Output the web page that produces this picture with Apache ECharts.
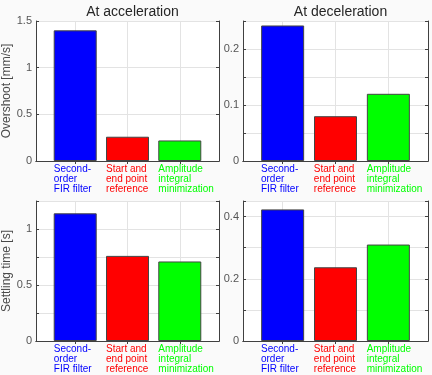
<!DOCTYPE html>
<html>
<head>
<meta charset="utf-8">
<script src="https://cdn.jsdelivr.net/npm/echarts@6/dist/echarts.min.js"></script>
<style>
  html, body { margin: 0; padding: 0; background: #fafafa; }
  #chart { width: 432px; height: 375px; }
</style>
</head>
<body>
<div id="chart"></div>
<script>
const categories = ["Second-\norder\nFIR filter", "Start and\nend point\nreference", "Amplitude\nintegral\nminimization"];
const barColors = ["#0000ff", "#ff0000", "#00ff00"];
const titles = ["At acceleration", "At deceleration"];
const yNames = ["Overshoot [mm/s]", "Settling time [s]"];

const accelOvershoot = [1.4, 0.26, 0.22];
const decelOvershoot = [0.242, 0.08, 0.12];
const accelSettling = [1.14, 0.76, 0.71];
const decelSettling = [0.423, 0.237, 0.31];

// per panel: axis max, tick/grid step, labelled step
const yMax = [1.5, 0.25, 1.25, 0.45];
const yStep = [0.5, 0.05, 0.25, 0.1];
const yLabelStep = [0.5, 0.1, 0.5, 0.2];

const panels = [accelOvershoot, decelOvershoot, accelSettling, decelSettling];
const grids = [
  { left: 36, top: 21, width: 183, height: 140 },
  { left: 243, top: 21, width: 185, height: 140 },
  { left: 36, top: 201, width: 183, height: 140 },
  { left: 243, top: 201, width: 185, height: 140 }
];

const axisColor = "#404040";
const gridColor = "#e3e3e3";
const font = "Liberation Sans";
const xPos = [1, 2, 3];
const labelPos = xPos.map(v => v - 0.41); // labels start at the bar's left edge

const chart = echarts.init(document.getElementById("chart"));
const xAxis = [], yAxis = [], series = [];

panels.forEach((vals, i) => {
  xAxis.push({
    type: "value", gridIndex: i, min: 0.25, max: 3.75,
    axisLine: { show: true, lineStyle: { color: axisColor } },
    axisTick: { show: true, inside: true, length: 3, customValues: xPos, lineStyle: { color: axisColor } },
    axisLabel: {
      show: true, customValues: labelPos, align: "left", verticalAlign: "top",
      margin: 3, fontSize: 10, lineHeight: 10, fontFamily: font,
      formatter: v => {
        const k = Math.round(v + 0.41) - 1;
        return "{c" + k + "|" + categories[k].split("\n").join("}\n{c" + k + "|") + "}";
      },
      rich: {
        c0: { color: barColors[0], fontSize: 10, lineHeight: 10, fontFamily: font },
        c1: { color: barColors[1], fontSize: 10, lineHeight: 10, fontFamily: font },
        c2: { color: barColors[2], fontSize: 10, lineHeight: 10, fontFamily: font }
      }
    },
    splitLine: { show: true, lineStyle: { color: gridColor } }
  });
  // top edge of the box, ticks only
  xAxis.push({
    type: "value", gridIndex: i, position: "top", min: 0.25, max: 3.75,
    axisLine: { show: true, lineStyle: { color: axisColor } },
    axisTick: { show: true, inside: true, length: 3, customValues: xPos, lineStyle: { color: axisColor } },
    axisLabel: { show: false },
    splitLine: { show: false }
  });
  const ls = yLabelStep[i];
  yAxis.push({
    type: "value", gridIndex: i, min: 0, max: yMax[i], interval: yStep[i],
    name: i % 2 === 0 ? yNames[i / 2] : "",
    nameLocation: "middle", nameGap: 22,
    nameTextStyle: { fontSize: 12, color: "#4a4a4a", fontFamily: font },
    axisLine: { show: true, lineStyle: { color: axisColor } },
    axisTick: { show: true, inside: true, length: 3, lineStyle: { color: axisColor } },
    axisLabel: {
      margin: 4, fontSize: 11, color: "#555", fontFamily: font,
      formatter: v => {
        const r = v / ls;
        return Math.abs(r - Math.round(r)) < 1e-6 ? String(+v.toFixed(3)) : "";
      }
    },
    splitLine: { show: true, lineStyle: { color: gridColor } }
  });
  // right edge of the box
  yAxis.push({
    type: "value", gridIndex: i, position: "right", min: 0, max: yMax[i], interval: yStep[i],
    axisLine: { show: true, lineStyle: { color: axisColor } },
    axisTick: { show: true, inside: true, length: 3, lineStyle: { color: axisColor } },
    axisLabel: { show: false },
    splitLine: { show: false }
  });
  series.push({
    type: "bar", xAxisIndex: 2 * i, yAxisIndex: 2 * i, barWidth: 43,
    data: vals.map((v, k) => ({
      value: [xPos[k], v],
      itemStyle: { color: barColors[k], borderColor: "#444", borderWidth: 1 }
    }))
  });
});

const option = {
  backgroundColor: "#fafafa",
  animation: false,
  title: [
    { text: titles[0], left: 127.5, top: 0, textAlign: "center",
      textStyle: { fontSize: 14, fontWeight: "normal", color: "#262626", fontFamily: font } },
    { text: titles[1], left: 335.5, top: 0, textAlign: "center",
      textStyle: { fontSize: 14, fontWeight: "normal", color: "#262626", fontFamily: font } }
  ],
  grid: grids.map(g => Object.assign({ show: true, backgroundColor: "#fff", borderWidth: 0, outerBoundsMode: "none" }, g)),
  xAxis: xAxis,
  yAxis: yAxis,
  series: series
};
chart.setOption(option);
window.addEventListener("resize", () => {
  chart && chart.resize();
});
</script>
</body>
</html>
